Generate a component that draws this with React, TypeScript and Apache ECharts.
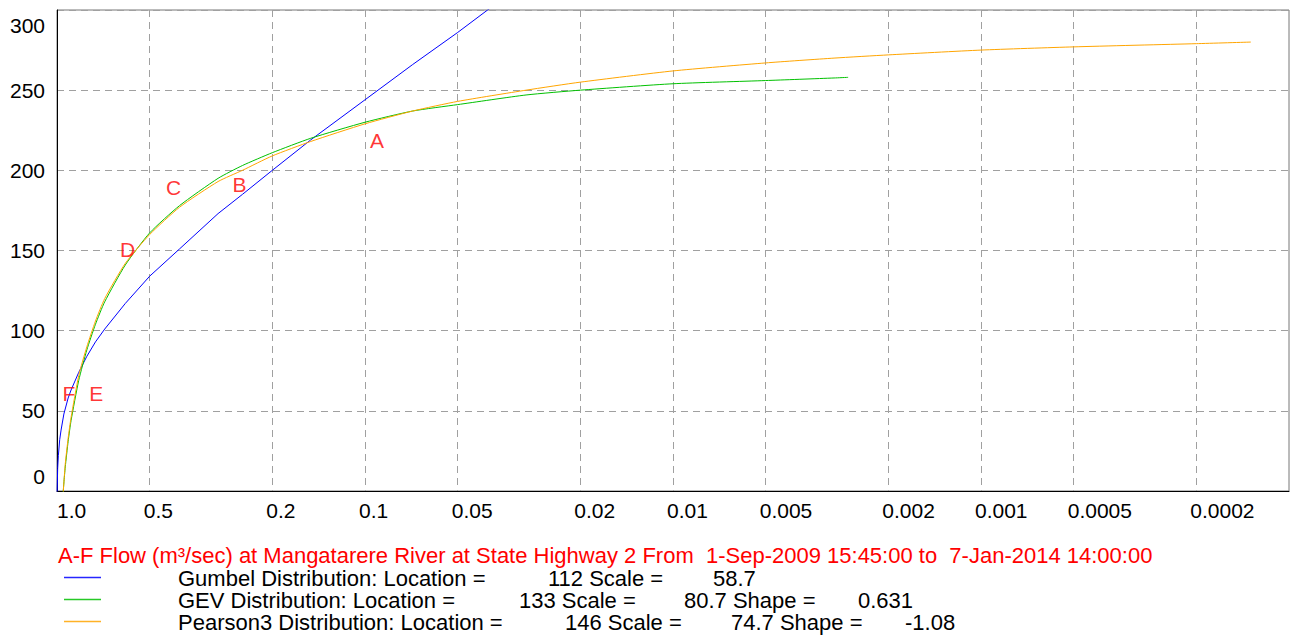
import React, { useEffect, useRef } from "react";
import * as echarts from "echarts";

// X axis: annual exceedance probability (log scale, inverted)
const xTickValues = [1, 0.5, 0.2, 0.1, 0.05, 0.02, 0.01, 0.005, 0.002, 0.001, 0.0005, 0.0002];
const xTickLabels = ["1.0", "0.5", "0.2", "0.1", "0.05", "0.02", "0.01", "0.005", "0.002", "0.001", "0.0005", "0.0002"];

// Gumbel curve (blue)
const gumbelAEP = [0.999, 0.995, 0.99, 0.98, 0.97, 0.95, 0.92, 0.9, 0.85, 0.8, 0.75, 0.7, 0.6, 0.5, 0.4, 0.3, 0.25, 0.2, 0.15, 0.1, 0.07, 0.05, 0.04, 0.035];
const gumbelFlow = [-1, 14, 22, 32, 38, 48, 58, 63, 74, 84, 93, 101, 117, 134, 151, 173, 185, 200, 219, 244, 266, 286, 300, 308];

// GEV curve (green)
const gevAEP = [0.96, 0.95, 0.94, 0.92, 0.9, 0.85, 0.8, 0.75, 0.7, 0.6, 0.5, 0.4, 0.3, 0.25, 0.2, 0.15, 0.1, 0.07, 0.05, 0.03, 0.02, 0.01, 0.005, 0.003, 0.0027];
const gevFlow = [-7, 5, 15, 31, 44, 69, 88, 104, 118, 141, 161, 178, 195, 203, 211, 220, 230, 237, 241, 247, 250, 254, 256, 257.6, 258];

// Pearson3 curve (orange)
const pearsonAEP = [0.96, 0.95, 0.94, 0.92, 0.9, 0.85, 0.8, 0.75, 0.7, 0.6, 0.5, 0.4, 0.3, 0.25, 0.2, 0.15, 0.1, 0.07, 0.05, 0.03, 0.02, 0.01, 0.005, 0.003, 0.002, 0.001, 0.0005, 0.0002, 0.000133];
const pearsonFlow = [-8, 5, 17, 33, 46, 72, 90, 106, 120, 142, 160, 177, 193, 200, 209, 218, 229, 237, 243, 250, 255, 262, 267, 270, 272, 275, 277, 279, 280];

// Observed annual maxima, labelled A-F
const pointLetters = ["A", "B", "C", "D", "E", "F"];
const pointAEP = [0.0915, 0.2556, 0.4184, 0.5902, 0.746, 0.9156];
const pointFlow = [218.6, 191, 189.6, 150.5, 60.8, 60.8];

// Y axis
const yMin = 0;
const yMax = 300;
const yStep = 50;

// Title & legend
const titleText = "A-F Flow (m³/sec) at Mangatarere River at State Highway 2 From  1-Sep-2009 15:45:00 to  7-Jan-2014 14:00:00";
const distNames = ["Gumbel", "GEV", "Pearson3"];
const distLocation = ["112", "133", "146"];
const distScale = ["58.7", "80.7", "74.7"];
const distShape = [null, "0.631", "-1.08"];
const distColors = ["#0000ff", "#00c000", "#ffa500"];

const FONT = '"Liberation Sans", Arial, Helvetica, sans-serif';

function zip(xs: number[], ys: number[]) {
  return xs.map((x, i) => [x, ys[i]]);
}

export default function App() {
  const ref = useRef<HTMLDivElement>(null);

  useEffect(() => {
    if (!ref.current) return;
    const chart = echarts.init(ref.current, undefined, { renderer: "svg" });

    const rowY = [578, 600, 622];
    const locX = [548, 519, 565];
    const scaleX = [713, 684, 731];
    const shapeX = [0, 858, 905];

    const legendText = (x: number, y: number, text: string) => ({
      type: "text",
      x,
      y,
      style: {
        text,
        fill: "#000",
        font: `22px ${FONT}`,
        lineHeight: 19,
        verticalAlign: "middle",
        align: "left",
      },
    });

    const graphics: any[] = [
      {
        type: "text",
        x: 58,
        y: 555,
        style: { text: titleText, fill: "#ff0000", font: `22px ${FONT}`, lineHeight: 20, verticalAlign: "middle", align: "left" },
      },
    ];
    distNames.forEach((name, i) => {
      graphics.push({
        type: "line",
        z: 10,
        shape: { x1: 64, y1: rowY[i] - 0.5, x2: 101, y2: rowY[i] - 0.5 },
        style: { stroke: distColors[i], lineWidth: 1.6, opacity: 0.85 },
      });
      graphics.push(legendText(178, rowY[i], `${name} Distribution: Location =`));
      graphics.push(legendText(locX[i], rowY[i], `${distLocation[i]} Scale =`));
      graphics.push(
        legendText(scaleX[i], rowY[i], distShape[i] ? `${distScale[i]} Shape =` : `${distScale[i]}`)
      );
      if (distShape[i]) {
        graphics.push(legendText(shapeX[i], rowY[i], `${distShape[i]}`));
      }
    });

    const gridLine = { color: "#a0a0a0", type: [7, 5] as any, width: 1 };

    const option: any = {
      animation: false,
      grid: {
        left: 57,
        top: 10,
        width: 1232,
        height: 481,
        show: true,
        borderColor: "#777",
        borderWidth: 1,
        containLabel: false,
      },
      xAxis: {
        type: "log",
        logBase: 10,
        min: 0.0001,
        max: 1,
        inverse: true,
        axisLine: { show: true, onZero: false, lineStyle: { color: "#000", width: 1 } },
        axisTick: { show: false, customValues: xTickValues },
        minorTick: { show: false },
        axisLabel: {
          customValues: xTickValues,
          fontSize: 21,
          fontFamily: FONT,
          color: "#000",
          align: "left",
          padding: [0, 0, 0, -6],
          margin: 9,
          hideOverlap: false,
          formatter: (v: number) => {
            let idx = -1;
            xTickValues.forEach((t, i) => {
              if (Math.abs(Math.log10(v) - Math.log10(t)) < 1e-6) idx = i;
            });
            if (idx < 0) return "";
            if (idx === 0) return `{first|${xTickLabels[idx]}}`;
            return xTickLabels[idx];
          },
          rich: {
            first: { fontSize: 21, fontFamily: FONT, color: "#000", padding: [0, 0, 0, 6] },
          },
        },
        splitLine: { show: true, lineStyle: gridLine },
      },
      yAxis: {
        type: "value",
        min: yMin,
        max: yMax,
        interval: yStep,
        axisLine: { show: true, onZero: false, lineStyle: { color: "#000", width: 1 } },
        axisTick: { show: false },
        axisLabel: {
          fontSize: 21,
          fontFamily: FONT,
          color: "#000",
          margin: 12,
          verticalAlignMinLabel: "bottom",
          verticalAlignMaxLabel: "top",
          formatter: (v: number) => {
            if (v === yMax) return `{top|${v}}`;
            if (v === yMin) return `{bot|${v}}`;
            return `${v}`;
          },
          rich: {
            top: { fontSize: 21, fontFamily: FONT, color: "#000", padding: [5, 0, 0, 0] },
            bot: { fontSize: 21, fontFamily: FONT, color: "#000", padding: [0, 0, 4, 0] },
          },
        },
        splitLine: { show: true, lineStyle: gridLine },
      },
      series: [
        {
          name: "Gumbel",
          type: "line",
          data: zip(gumbelAEP, gumbelFlow),
          showSymbol: false,
          symbol: "none",
          clip: true,
          lineStyle: { color: distColors[0], width: 1 },
          z: 3,
        },
        {
          name: "GEV",
          type: "line",
          data: zip(gevAEP, gevFlow),
          showSymbol: false,
          symbol: "none",
          clip: true,
          smooth: 0.2,
          lineStyle: { color: distColors[1], width: 1 },
          z: 3,
        },
        {
          name: "Pearson3",
          type: "line",
          data: zip(pearsonAEP, pearsonFlow),
          showSymbol: false,
          symbol: "none",
          clip: true,
          smooth: 0.2,
          lineStyle: { color: distColors[2], width: 1 },
          z: 4,
        },
        {
          name: "Observed",
          type: "scatter",
          data: zip(pointAEP, pointFlow),
          symbolSize: 1,
          itemStyle: { color: "rgba(0,0,0,0)" },
          label: {
            show: true,
            position: "inside",
            formatter: (p: any) => pointLetters[p.dataIndex],
            color: "#ff0000",
            fontSize: 21,
            fontFamily: FONT,
          },
          z: 5,
        },
      ],
      graphic: graphics,
    };

    chart.setOption(option);
    return () => chart.dispose();
  }, []);

  return (
    <div
      ref={ref}
      style={{ position: "absolute", left: 0, top: 0, width: 1290, height: 637, background: "#fff" }}
    />
  );
}
